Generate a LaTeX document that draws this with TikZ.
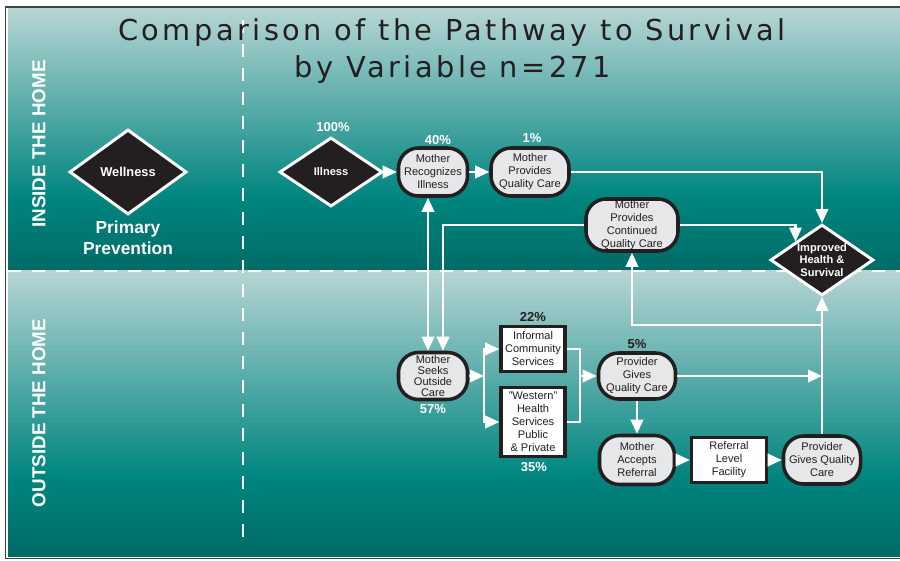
\documentclass[tikz,border=0pt]{standalone}
\usepackage{fontspec}
\setmainfont{Liberation Sans}
\newfontfamily\titlefont[LetterSpace=12]{DejaVu Sans}
\usetikzlibrary{arrows.meta,shapes.geometric}

\definecolor{ink}{RGB}{35,31,32}
\definecolor{ovalgray}{RGB}{230,231,232}
\definecolor{teallt}{RGB}{182,213,212}
\definecolor{tealmd}{RGB}{0,133,127}
\definecolor{tealdk}{RGB}{0,107,102}
\pgfdeclareverticalshading{band}{100bp}{color(0bp)=(tealdk); color(25bp)=(tealdk); color(39bp)=(tealmd); color(75bp)=(teallt); color(100bp)=(teallt)}

\begin{document}
\begin{tikzpicture}[x=0.2mm, y=-0.2mm,
  >={Triangle[length=2.8mm,width=2.5mm]},
  every node/.style={font=\fontsize{6.3}{7.4}\selectfont, align=center, inner sep=0pt},
  oval/.style={draw=ink, line width=2pt, fill=ovalgray, rounded corners=4mm, text=ink},
  box/.style={draw=ink, line width=2pt, fill=white, text=ink},
  decision/.style={diamond, draw=white, line width=1.7pt, fill=ink, text=white, font=\fontsize{6.3}{7.1}\selectfont\bfseries},
  pct/.style={font=\fontsize{7.4}{8}\selectfont\bfseries},
  lane/.style={rotate=90, text=white, font=\fontsize{10.7}{12}\selectfont\bfseries},
  flow/.style={draw=white, line width=1.2pt, ->},
  link/.style={draw=white, line width=1.2pt},
  divider/.style={draw=white, line width=1.3pt, dash pattern=on 2.6mm off 2.2mm}]
\useasboundingbox (0,0) rectangle (900,561);

\draw [line width=0.8pt, draw=black!75] (5.5,7) rectangle (910,558.5);
\shade [shading=band] (8,9) rectangle (900,271);
\shade [shading=band] (8,271) rectangle (900,556);
\draw [divider] (8,271) -- (900,271);
\draw [divider] (243,20) -- (243,547);

\node [text=ink, font=\titlefont\fontsize{16.4}{18}\selectfont] (title) at (452,33) {Comparison of the Pathway to Survival};
\node [text=ink, font=\titlefont\fontsize{16.4}{18}\selectfont] (subtitle) at (453,70) {by Variable n=271};

\node [lane] (inside) at (39,144) {INSIDE THE HOME};
\node [lane] (outside) at (39,413) {OUTSIDE THE HOME};

\node [decision, minimum width=23.4mm, minimum height=17mm, font=\fontsize{7.3}{8}\selectfont\bfseries] (wellness) at (128,172) {Wellness};
\node [text=white, font=\fontsize{9.9}{11.9}\selectfont\bfseries] (prevention) at (128,238) {Primary\\Prevention};

\node [decision, minimum width=20.6mm, minimum height=13.8mm] (illness) at (331,172) {Illness};
\node [oval, minimum width=13.8mm, minimum height=9.6mm] (recog) at (433,172) {Mother\\Recognizes\\Illness};
\node [oval, minimum width=15.6mm, minimum height=9.6mm] (mqual) at (530,172) {Mother\\Provides\\Quality Care};
\node [oval, minimum width=18.4mm, minimum height=10.4mm] (mcont) at (632,225) {Mother\\Provides\\Continued\\Quality Care};
\node [decision, aspect=1.45, minimum width=20.6mm, minimum height=14.2mm] (health) at (822,260) {Improved\\Health \&\\Survival};

\node [oval, minimum width=13.8mm, minimum height=9.4mm, font=\fontsize{6.3}{6.4}\selectfont] (seeks) at (433,376) {Mother\\Seeks\\Outside\\Care};
\node [box, minimum width=12.8mm, minimum height=9mm] (informal) at (533,349) {Informal\\Community\\Services};
\node [box, minimum width=12.8mm, minimum height=13.8mm] (western) at (533,422) {"Western"\\Health\\Services\\Public\\\& Private};
\node [oval, minimum width=15.4mm, minimum height=9.2mm] (pgive) at (637,376) {Provider\\Gives\\Quality Care};
\node [oval, minimum width=15mm, minimum height=9.8mm] (accept) at (637,460) {Mother\\Accepts\\Referral};
\node [box, minimum width=15mm, minimum height=9mm] (facility) at (729,460) {Referral\\Level\\Facility};
\node [oval, minimum width=15.4mm, minimum height=9.6mm] (pgive2) at (822,460) {Provider\\Gives Quality\\Care};

\node [pct, text=white] (p100) at (333,127) {100\%};
\node [pct, text=white] (p40) at (438,140) {40\%};
\node [pct, text=white] (p1) at (532,138) {1\%};
\node [pct, text=white] (p57) at (433,409) {57\%};
\node [pct, text=ink] (p22) at (533,317) {22\%};
\node [pct, text=white] (p35) at (534,467) {35\%};
\node [pct, text=ink] (p5) at (637,344) {5\%};

\coordinate (split) at (484,376);
\coordinate (merge) at (580,376);
\coordinate (back) at (822,325);

\draw [flow] (illness.east) -- (recog.west);
\draw [flow] (recog.east) -- (mqual.west);
\draw [flow] (mqual.east) -| (health.north);
\draw [flow] (mcont.east) -| (health.north west);
\draw [flow, <->] ([xshift=-1mm]seeks.north) -- ([xshift=-1mm]recog.south);
\draw [flow] (mcont.west) -| ([xshift=2mm]seeks.north);

\draw [flow] (seeks.east) -- (split);
\draw [flow] (split) |- (informal.west);
\draw [flow] (split) |- (western.west);
\draw [link] (informal.east) -| (merge) |- (western.east);
\draw [flow] (merge) -- (pgive.west);
\draw [flow] (pgive.east) -- (pgive.east -| back);
\draw [flow] (pgive2.north) -- (health.south);
\draw [flow] (back) -| (mcont.south);
\draw [flow] (pgive.south) -- (accept.north);
\draw [flow] (accept.east) -- (facility.west);
\draw [flow] (facility.east) -- (pgive2.west);
\end{tikzpicture}
\end{document}
